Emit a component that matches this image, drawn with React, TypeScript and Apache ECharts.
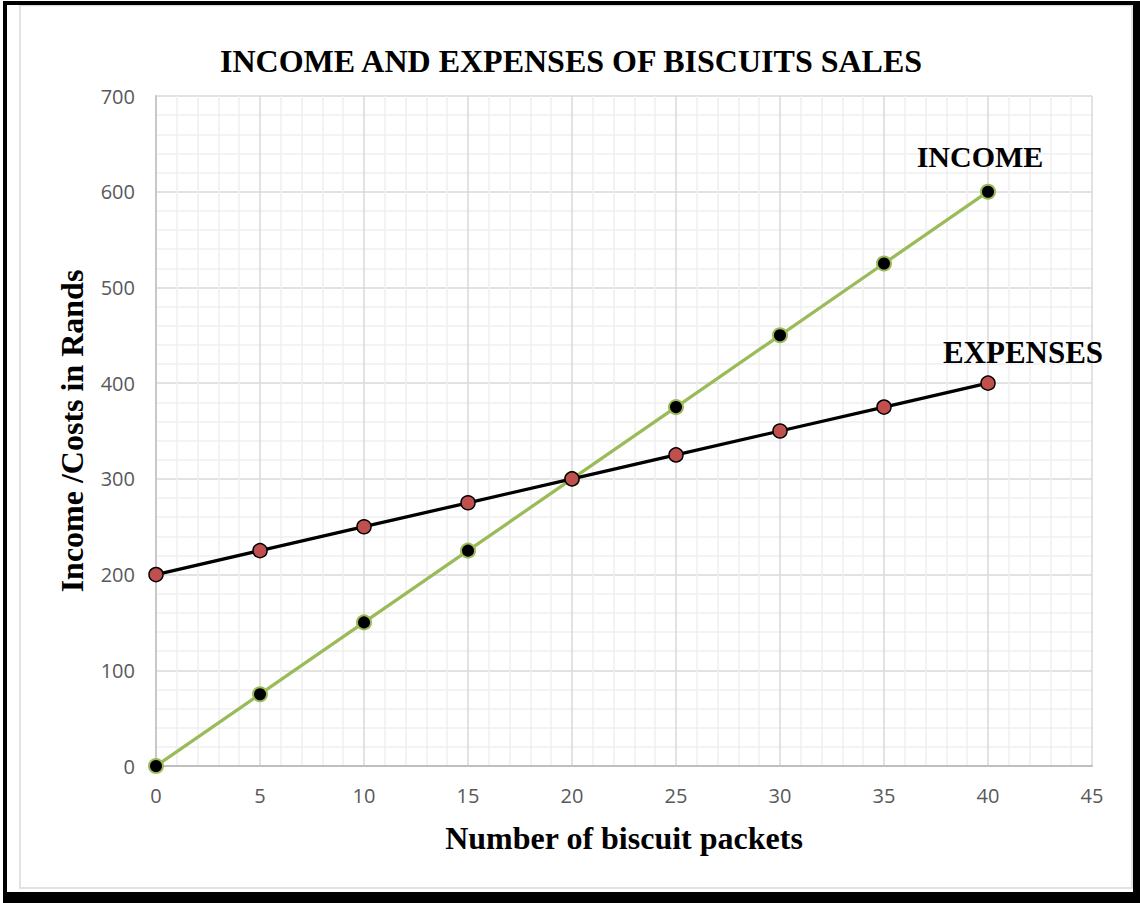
import React, { useEffect, useRef } from "react";
import * as echarts from "echarts";

const packets = [0, 5, 10, 15, 20, 25, 30, 35, 40];
const income = [0, 75, 150, 225, 300, 375, 450, 525, 600];
const expenses = [200, 225, 250, 275, 300, 325, 350, 375, 400];
const titleText = "INCOME AND EXPENSES OF BISCUITS SALES";
const xName = "Number of biscuit packets";
const yName = "Income /Costs in Rands";

const SERIF = "'Liberation Serif', 'Times New Roman', serif";
const SANS = "'Open Sans', 'Noto Sans', sans-serif";

export default function App() {
  const ref = useRef<HTMLDivElement>(null);
  useEffect(() => {
    if (!ref.current) return;
    const chart = echarts.init(ref.current, undefined, { renderer: "svg" });
    const mk = (vals: number[], name: string, labelOffset: number[], size: number) =>
      vals.map((v, i) => {
        const item: any = { value: [packets[i], v] };
        if (i === vals.length - 1) {
          item.label = {
            show: true,
            formatter: name,
            position: "top",
            offset: labelOffset,
            fontFamily: SERIF,
            fontWeight: "bold",
            fontSize: size,
            color: "#000",
          };
        }
        return item;
      });
    chart.setOption({
      animation: false,
      backgroundColor: "#fff",
      title: {
        text: titleText,
        left: 566,
        textAlign: "center",
        top: 40,
        textStyle: { fontFamily: SERIF, fontWeight: "bold", fontSize: 32, color: "#000" },
      },
      grid: { left: 156, right: 48, top: 96, bottom: 137, containLabel: false },
      xAxis: {
        type: "value",
        min: 0,
        max: 45,
        interval: 5,
        name: xName,
        nameLocation: "middle",
        nameGap: 56,
        nameTextStyle: { fontFamily: SERIF, fontWeight: "bold", fontSize: 32, color: "#000" },
        axisLine: { show: true, lineStyle: { color: "#bfbfbf", width: 2 } },
        axisTick: { show: false },
        axisLabel: { fontFamily: SANS, fontSize: 20, color: "#595959", margin: 19 },
        splitLine: { show: true, lineStyle: { color: "#d9d9d9", width: 1.5 } },
        minorTick: { show: false, splitNumber: 5 },
        minorSplitLine: { show: true, lineStyle: { color: "#efefef", width: 1.5 } },
      },
      yAxis: {
        type: "value",
        min: 0,
        max: 700,
        interval: 100,
        name: yName,
        nameLocation: "middle",
        nameGap: 68,
        nameRotate: 90,
        nameTextStyle: { fontFamily: SERIF, fontWeight: "bold", fontSize: 32, color: "#000" },
        axisLine: { show: true, lineStyle: { color: "#c8c8c8", width: 2 } },
        axisTick: { show: false },
        axisLabel: { fontFamily: SANS, fontSize: 20, color: "#595959", margin: 21 },
        splitLine: { show: true, lineStyle: { color: "#d9d9d9", width: 1.5 } },
        minorTick: { show: false, splitNumber: 5 },
        minorSplitLine: { show: true, lineStyle: { color: "#efefef", width: 1.5 } },
      },
      series: [
        {
          name: "INCOME",
          type: "line",
          data: mk(income, "INCOME", [-8, -7], 30),
          symbol: "circle",
          symbolSize: 14,
          lineStyle: { color: "#9bbb59", width: 3.3 },
          itemStyle: { color: "#000", borderColor: "#9bbb59", borderWidth: 2 },
          z: 2,
        },
        {
          name: "EXPENSES",
          type: "line",
          data: mk(expenses, "EXPENSES", [35, -2], 31),
          symbol: "circle",
          symbolSize: 14,
          lineStyle: { color: "#000", width: 3.3 },
          itemStyle: { color: "#c0504d", borderColor: "#000", borderWidth: 1.5 },
          z: 3,
        },
      ],
      graphic: [
        { type: "rect", shape: { x: 20, y: 5.5, width: 1112, height: 882.5 }, style: { fill: "none", stroke: "#d9d9d9", lineWidth: 1.5 }, silent: true },
        { type: "rect", shape: { x: 3, y: 1, width: 4, height: 902 }, style: { fill: "#000" }, silent: true },
        { type: "rect", shape: { x: 3, y: 1, width: 1137, height: 4 }, style: { fill: "#000" }, silent: true },
        { type: "rect", shape: { x: 1133, y: 1, width: 7, height: 902 }, style: { fill: "#000" }, silent: true },
        { type: "rect", shape: { x: 3, y: 892, width: 1137, height: 11 }, style: { fill: "#000" }, silent: true },
      ],
    });
    return () => chart.dispose();
  }, []);
  return (
    <div
      ref={ref}
      style={{ position: "absolute", left: 0, top: 0, width: 1140, height: 903 }}
    />
  );
}
